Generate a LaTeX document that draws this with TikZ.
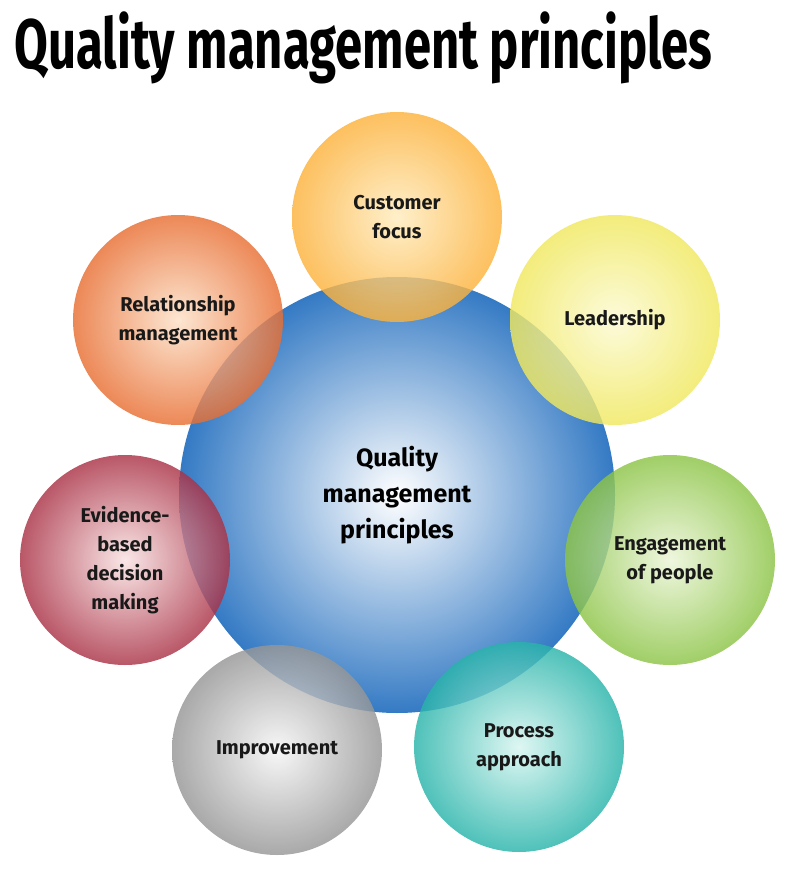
\documentclass[tikz,border=0pt]{standalone}
\usepackage{fontspec}
\setmainfont{Fira Sans}
\begin{document}
\begin{tikzpicture}[x=1pt,y=-1pt,
  sat/.style={circle,minimum size=210pt,inner sep=0pt,fill opacity=0.82,text opacity=1,
    font=\bfseries\fontsize{20}{29}\selectfont,align=center,text=black!90},
]
\useasboundingbox (0,0) rectangle (800,888);
\node[font=\bfseries\fontsize{70}{72}\selectfont,anchor=west,xscale=0.70,transform shape] (title) at (12,48) {Quality management principles};
\node[circle,minimum size=436pt,inner sep=0pt,inner color=white,outer color={rgb,255:red,52;green,122;blue,196},
  font=\bfseries\fontsize{25}{36}\selectfont,align=center] (c) at (397,495) {Quality\\management\\principles};
\node[sat,inner color={rgb,255:red,255;green,236;blue,190},outer color={rgb,255:red,252;green,178;blue,60}] (cf) at (397,217) {Customer\\focus};
\node[sat,inner color={rgb,255:red,252;green,250;blue,210},outer color={rgb,255:red,240;green,232;blue,95}] (ld) at (615,320) {Leadership};
\node[sat,inner color={rgb,255:red,235;green,245;blue,215},outer color={rgb,255:red,140;green,196;blue,70}] (ep) at (670,560) {Engagement\\of people};
\node[sat,inner color={rgb,255:red,215;green,245;blue,240},outer color={rgb,255:red,40;green,180;blue,170}] (pa) at (519,747) {Process\\approach};
\node[sat,inner color={rgb,255:red,245;green,245;blue,245},outer color={rgb,255:red,150;green,150;blue,150}] (im) at (277,750) {Improvement};
\node[sat,inner color={rgb,255:red,248;green,225;blue,225},outer color={rgb,255:red,170;green,50;blue,70}] (eb) at (125,560) {Evidence-\\based\\decision\\making};
\node[sat,inner color={rgb,255:red,252;green,225;blue,200},outer color={rgb,255:red,232;green,110;blue,50}] (rm) at (178,320) {Relationship\\management};
\end{tikzpicture}
\end{document}
